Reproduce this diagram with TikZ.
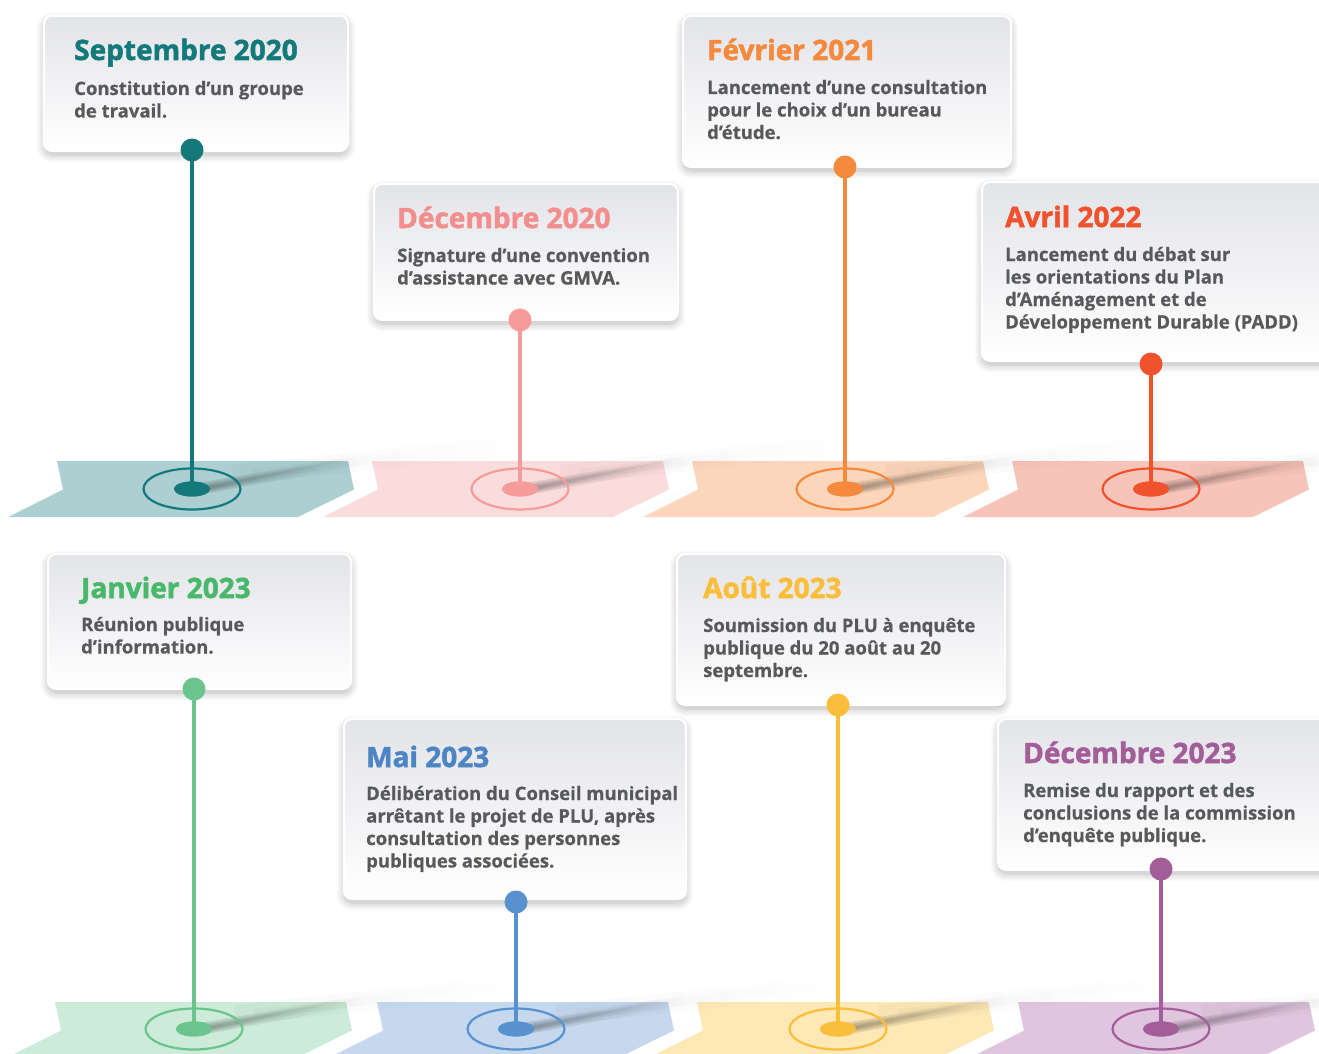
\documentclass[tikz,border=0pt]{standalone}
\usepackage{fontspec}
\setmainfont{Open Sans}
\newfontfamily\titlefont{Open Sans}[BoldFeatures={FakeBold=1.8}]
\newfontfamily\bodyfont{Open Sans}[BoldFeatures={FakeBold=0.6}]
\usetikzlibrary{shapes.geometric,shadows.blur,fadings}
\definecolor{cTeal}{HTML}{13797A}\definecolor{bTeal}{HTML}{ACCFD1}
\definecolor{cPinkT}{HTML}{F28F8E}\definecolor{cPink}{HTML}{F59B9B}\definecolor{bPink}{HTML}{FADCDC}
\definecolor{cOrange}{HTML}{F58A3E}\definecolor{bOrange}{HTML}{FBD6BA}
\definecolor{cRed}{HTML}{F0522D}\definecolor{bRed}{HTML}{F7C4B9}
\definecolor{cGreenT}{HTML}{49B86B}\definecolor{cGreen}{HTML}{6BC48B}\definecolor{bGreen}{HTML}{CCEBD8}
\definecolor{cBlueT}{HTML}{4C84C4}\definecolor{cBlue}{HTML}{5792CF}\definecolor{bBlue}{HTML}{C5D8EE}
\definecolor{cYellow}{HTML}{FBBE3A}\definecolor{bYellow}{HTML}{FDE8B6}
\definecolor{cPurple}{HTML}{A35E99}\definecolor{bPurple}{HTML}{DFC5DD}
\definecolor{txtgray}{HTML}{58595B}
\definecolor{cardtop}{HTML}{E3E4E8}
\tikzfading[name=fadeR, left color=transparent!0, right color=transparent!100]
\newcommand\bodylines[1]{\begin{tabular}[t]{@{}l@{}}#1\end{tabular}}
\tikzset{
  card/.style={draw=white, line width=2pt, rounded corners=8pt, top color=cardtop, bottom color=white,
    inner sep=0pt, anchor=north west,
    blur shadow={shadow blur steps=12, shadow xshift=0pt, shadow yshift=-4pt, shadow opacity=28, shadow blur radius=8pt}},
  pinhead/.style={circle, minimum size=23pt, inner sep=0pt},
  dotmark/.style={ellipse, minimum width=36pt, minimum height=15pt, inner sep=0pt},
  ringmark/.style={ellipse, minimum width=97pt, minimum height=41pt, inner sep=0pt, line width=2.2pt},
  stem/.style={line width=4.5pt},
  ttl/.style={anchor=base west, inner sep=0pt, font=\titlefont\fontsize{28}{32}\selectfont\bfseries},
  body/.style={anchor=base west, inner sep=0pt, text=txtgray, font=\bodyfont\fontsize{18.5}{22.5}\selectfont\bfseries},
  streak/.style={black, opacity=0.12, path fading=fadeR},
  haze/.style={black, opacity=0.025, path fading=fadeR}
}
\newcommand\bandseg[3]{% x0, ytop, color
  \fill[#3] (#1,#2) -- ++(291,0) -- ++(6,28.5) -- ++(-56,27.5) -- ++(-290,0) -- ++(55,-27.5) -- cycle;}
\newcommand\shadowstreak[2]{% cx, cy
  \fill[streak] (#1+6,#2-6) -- (#1+170,#2-34) -- (#1+170,#2-24) -- (#1+6,#2+6) -- cycle;
  \fill[streak] (#1+8,#2-4) -- (#1+160,#2-31) -- (#1+160,#2-26) -- (#1+8,#2+4) -- cycle;
  \fill[streak] (#1+10,#2-2) -- (#1+150,#2-29.5) -- (#1+150,#2-27.5) -- (#1+10,#2+2) -- cycle;
  \fill[haze] (#1+40,#2-24) -- (#1+340,#2-56) -- (#1+340,#2-36) -- (#1+40,#2-4) -- cycle;
  \fill[haze] (#1+60,#2-20) -- (#1+320,#2-50) -- (#1+320,#2-42) -- (#1+60,#2-10) -- cycle;}
\begin{document}
\begin{tikzpicture}[x=1pt,y=-1pt]
\useasboundingbox (0,0) rectangle (1319,1054);
\clip (0,0) rectangle (1319,1054);
% ---------- bands ----------
\bandseg{57}{461}{bTeal}
\bandseg{372}{461}{bPink}
\bandseg{692}{461}{bOrange}
\bandseg{1012}{461}{bRed}
\bandseg{55}{1002}{bGreen}
\bandseg{377}{1002}{bBlue}
\bandseg{697}{1002}{bYellow}
\bandseg{1018}{1002}{bPurple}
\shadowstreak{192}{489}
\shadowstreak{520}{489}
\shadowstreak{845}{489}
\shadowstreak{1151}{489}
\shadowstreak{194}{1029}
\shadowstreak{516}{1029}
\shadowstreak{838}{1029}
\shadowstreak{1161}{1029}
% ---------- rings and dots ----------
\node[ringmark, draw=cTeal] (rA) at (192,489) {};
\node[dotmark, fill=cTeal] (dA) at (192,489) {};
\node[ringmark, draw=cPink] (rB) at (520,489) {};
\node[dotmark, fill=cPink] (dB) at (520,489) {};
\node[ringmark, draw=cOrange] (rC) at (845,489) {};
\node[dotmark, fill=cOrange] (dC) at (845,489) {};
\node[ringmark, draw=cRed] (rD) at (1151,489) {};
\node[dotmark, fill=cRed] (dD) at (1151,489) {};
\node[ringmark, draw=cGreen] (rE) at (194,1029) {};
\node[dotmark, fill=cGreen] (dE) at (194,1029) {};
\node[ringmark, draw=cBlue] (rF) at (516,1029) {};
\node[dotmark, fill=cBlue] (dF) at (516,1029) {};
\node[ringmark, draw=cYellow] (rG) at (838,1029) {};
\node[dotmark, fill=cYellow] (dG) at (838,1029) {};
\node[ringmark, draw=cPurple] (rH) at (1161,1029) {};
\node[dotmark, fill=cPurple] (dH) at (1161,1029) {};
% ---------- cards ----------
\node[card, minimum width=304pt, minimum height=135pt] (cA) at (43,15) {};
\node[card, minimum width=304pt, minimum height=136pt] (cB) at (373,183) {};
\node[card, minimum width=328pt, minimum height=151pt] (cC) at (682,15) {};
\node[card, minimum width=350pt, minimum height=179pt] (cD) at (981,181) {};
\node[card, minimum width=303pt, minimum height=135pt] (cE) at (47,553) {};
\node[card, minimum width=342pt, minimum height=180pt] (cF) at (343,718) {};
\node[card, minimum width=328pt, minimum height=151pt] (cG) at (676,553) {};
\node[card, minimum width=340pt, minimum height=151pt] (cH) at (997,718) {};
% ---------- pins ----------
\node[pinhead, fill=cTeal] (pA) at (192,150) {};
\node[pinhead, fill=cPink] (pB) at (520,320) {};
\node[pinhead, fill=cOrange] (pC) at (845,167) {};
\node[pinhead, fill=cRed] (pD) at (1151,364) {};
\node[pinhead, fill=cGreen] (pE) at (194,689) {};
\node[pinhead, fill=cBlue] (pF) at (516,902) {};
\node[pinhead, fill=cYellow] (pG) at (838,705) {};
\node[pinhead, fill=cPurple] (pH) at (1161,869) {};
% ---------- stems ----------
\draw[stem, cTeal] (pA.center) -- (dA.center);
\draw[stem, cPink] (pB.center) -- (dB.center);
\draw[stem, cOrange] (pC.center) -- (dC.center);
\draw[stem, cRed] (pD.center) -- (dD.center);
\draw[stem, cGreen] (pE.center) -- (dE.center);
\draw[stem, cBlue] (pF.center) -- (dF.center);
\draw[stem, cYellow] (pG.center) -- (dG.center);
\draw[stem, cPurple] (pH.center) -- (dH.center);
\fill[cTeal] (dA.center) ellipse (18pt and 7.5pt);
\fill[cPink] (dB.center) ellipse (18pt and 7.5pt);
\fill[cOrange] (dC.center) ellipse (18pt and 7.5pt);
\fill[cRed] (dD.center) ellipse (18pt and 7.5pt);
\fill[cGreen] (dE.center) ellipse (18pt and 7.5pt);
\fill[cBlue] (dF.center) ellipse (18pt and 7.5pt);
\fill[cYellow] (dG.center) ellipse (18pt and 7.5pt);
\fill[cPurple] (dH.center) ellipse (18pt and 7.5pt);
% ---------- texts ----------
\node[ttl, text=cTeal] (tA) at (74,60) {Septembre 2020};
\node[body] (bA) at (74,95) {\bodylines{Constitution d’un groupe\\de travail.}};
\node[ttl, text=cPinkT] (tB) at (397,228) {Décembre 2020};
\node[body] (bB) at (397,262) {\bodylines{Signature d’une convention\\d’assistance avec GMVA.}};
\node[ttl, text=cOrange] (tC) at (707,60) {Février 2021};
\node[body] (bC) at (707,94) {\bodylines{Lancement d’une consultation\\pour le choix d’un bureau\\d’étude.}};
\node[ttl, text=cRed] (tD) at (1005,227) {Avril 2022};
\node[body] (bD) at (1005,261) {\bodylines{Lancement du débat sur\\les orientations du Plan\\d’Aménagement et de\\Développement Durable (PADD)}};
\node[ttl, text=cGreenT] (tE) at (81,598) {Janvier 2023};
\node[body] (bE) at (81,631) {\bodylines{Réunion publique\\d’information.}};
\node[ttl, text=cBlueT] (tF) at (366,767) {Mai 2023};
\node[body] (bF) at (366,800) {\bodylines{Délibération du Conseil municipal\\arrêtant le projet de PLU, après\\consultation des personnes\\publiques associées.}};
\node[ttl, text=cYellow] (tG) at (703,598) {Août 2023};
\node[body] (bG) at (703,632) {\bodylines{Soumission du PLU à enquête\\publique du 20 août au 20\\septembre.}};
\node[ttl, text=cPurple] (tH) at (1023,763) {Décembre 2023};
\node[body] (bH) at (1023,797) {\bodylines{Remise du rapport et des\\conclusions de la commission\\d’enquête publique.}};
\end{tikzpicture}
\end{document}
